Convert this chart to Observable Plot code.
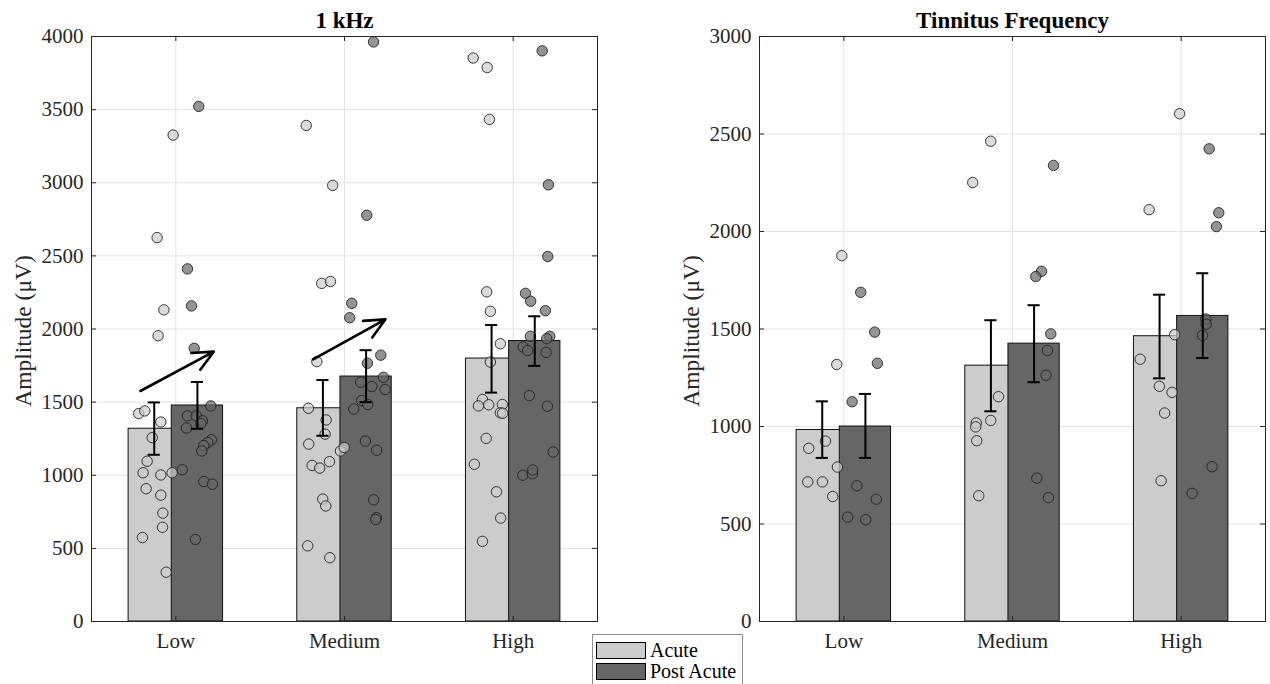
<!DOCTYPE html>
<html><head><meta charset="utf-8">
<script src="https://cdn.jsdelivr.net/npm/d3@7"></script>
<script src="https://cdn.jsdelivr.net/npm/@observablehq/plot@0.6"></script>
<style>
body{margin:0;background:#fff;}
#wrap{position:relative;width:1270px;height:684px;overflow:hidden;font-family:"Liberation Serif","Times New Roman",serif;color:#262626;}
.panel{position:absolute;top:0;}
#legend{position:absolute;left:592px;top:634px;width:151px;height:60px;border:1px solid #8c8c8c;background:#fff;box-sizing:border-box;}
.item{position:absolute;left:3px;height:19px;display:flex;align-items:center;font-size:20px;color:#000;}
.sw{width:50px;height:17px;border:1px solid #000;box-sizing:border-box;margin-right:4px;}
</style></head>
<body>
<div id="wrap">
  <div id="left" class="panel" style="left:0"></div>
  <div id="right" class="panel" style="left:635px"></div>
  <div id="legend"></div>
</div>
<script>
// ---------- data ----------
const categories = ["Low", "Medium", "High"];
const seriesNames = ["Acute", "Post Acute"];
const seriesColors = ["#cccccc", "#666666"];

// 1 kHz panel
const k1AcuteMean = [1318, 1458, 1798];
const k1AcuteLo   = [1140, 1270, 1565];
const k1AcuteHi   = [1498, 1651, 2027];
const k1PostMean  = [1477, 1675, 1918];
const k1PostLo    = [1318, 1500, 1748];
const k1PostHi    = [1638, 1855, 2087];

const k1AcutePts = [
  [3326, 2625, 2131, 1954, 1422, 1440, 1364, 1257, 1096, 1017, 1002, 1017, 908, 864, 741, 644, 574, 337],
  [3392, 2982, 2312, 2325, 1777, 1458, 1378, 1281, 1213, 1093, 1067, 1049, 1166, 1190, 837, 790, 517, 436],
  [3853, 3788, 3433, 2254, 2121, 1899, 1774, 1518, 1474, 1482, 1484, 1427, 1424, 1252, 1075, 887, 707, 548]
];
const k1AcuteJit = [
  [-0.016, -0.111, -0.071, -0.105, -0.220, -0.184, -0.089, -0.140, -0.170, -0.194, -0.089, -0.022, -0.176, -0.089, -0.077, -0.079, -0.198, -0.057],
  [-0.227, -0.070, -0.135, -0.083, -0.164, -0.214, -0.109, -0.115, -0.212, -0.089, -0.192, -0.147, -0.024, -0.002, -0.129, -0.111, -0.218, -0.087],
  [-0.237, -0.154, -0.141, -0.157, -0.135, -0.076, -0.135, -0.182, -0.206, -0.145, -0.064, -0.076, -0.062, -0.160, -0.230, -0.099, -0.074, -0.182]
];
const k1PostPts = [
  [3522, 2411, 2158, 1868, 1474, 1406, 1406, 1372, 1323, 1354, 1242, 1224, 1203, 1166, 1038, 957, 939, 561],
  [3963, 2778, 2176, 2077, 1821, 1766, 1670, 1586, 1636, 1607, 1511, 1484, 1453, 1234, 1171, 832, 710, 697],
  [3902, 2986, 2496, 2244, 2190, 2125, 1950, 1950, 1934, 1877, 1853, 1840, 1545, 1472, 1159, 1000, 1010, 1036]
];
const k1PostJit = [
  [0.136, 0.069, 0.093, 0.109, 0.207, 0.069, 0.121, 0.158, 0.063, 0.148, 0.211, 0.189, 0.166, 0.154, 0.038, 0.166, 0.217, 0.116],
  [0.172, 0.132, 0.043, 0.031, 0.215, 0.136, 0.231, 0.241, 0.096, 0.162, 0.102, 0.138, 0.055, 0.124, 0.191, 0.173, 0.189, 0.185],
  [0.172, 0.209, 0.205, 0.073, 0.104, 0.191, 0.102, 0.217, 0.199, 0.059, 0.086, 0.195, 0.096, 0.203, 0.237, 0.057, 0.114, 0.116]
];
// trend arrows (1 kHz): start/end in data units
const k1Arrows = [
  {x1: 0.790, y1: 1576, x2: 1.225, y2: 1845},
  {x1: 1.814, y1: 1792, x2: 2.243, y2: 2066}
];

// Tinnitus Frequency panel
const tfAcuteMean = [982, 1312, 1463];
const tfAcuteLo   = [839, 1078, 1247];
const tfAcuteHi   = [1129, 1545, 1676];
const tfPostMean  = [1000, 1425, 1567];
const tfPostLo    = [839, 1227, 1351];
const tfPostHi    = [1167, 1622, 1786];

const tfAcutePts = [
  [1876, 1318, 925, 888, 792, 716, 716, 641],
  [2463, 2251, 1153, 1031, 1018, 998, 927, 645],
  [2604, 2112, 1471, 1345, 1206, 1175, 1069, 722]
];
const tfAcuteJit = [
  [-0.012, -0.042, -0.109, -0.208, -0.038, -0.214, -0.127, -0.066],
  [-0.129, -0.236, -0.083, -0.129, -0.215, -0.218, -0.212, -0.200],
  [-0.009, -0.190, -0.038, -0.243, -0.129, -0.054, -0.098, -0.119]
];
const tfPostPts = [
  [1688, 1484, 1324, 1127, 696, 627, 535, 522],
  [2339, 1796, 1769, 1475, 1390, 1263, 735, 635],
  [2424, 2096, 2025, 1551, 1525, 1467, 794, 657]
];
const tfPostJit = [
  [0.100, 0.183, 0.199, 0.049, 0.077, 0.192, 0.023, 0.130],
  [0.243, 0.172, 0.138, 0.227, 0.207, 0.199, 0.144, 0.213],
  [0.166, 0.223, 0.209, 0.146, 0.148, 0.126, 0.183, 0.065]
];

const k1Ticks = [0, 500, 1000, 1500, 2000, 2500, 3000, 3500, 4000];
const tfTicks = [0, 500, 1000, 1500, 2000, 2500, 3000];
const yLabel = "Amplitude (μV)";

// ---------- drawing ----------
const OFF = 0.128, HW = 0.152, CAP = 0.036;
const AX = "#262626", GRID = "#e3e3e3";
const FONT = '"Liberation Serif", "Times New Roman", serif';

function panel(o) {
  const {title, yMax, ticks, means, los, his, pts, jits, arrows, marginLeft, marginRight} = o;
  const W = 635, H = 684, MT = 36, MB = 63;
  const pw = W - marginLeft - marginRight, ph = H - MT - MB;
  const bars = [], dots = [], errs = [];
  [0, 1].forEach(s => {
    const sign = s === 0 ? -1 : 1;
    categories.forEach((c, i) => {
      const cx = i + 1 + sign * OFF;
      bars.push({s, x1: cx - HW, x2: cx + HW, y: means[s][i]});
      errs.push({s, x: cx, lo: los[s][i], hi: his[s][i]});
      pts[s][i].forEach((v, j) => dots.push({s, x: i + 1 + jits[s][i][j], y: v}));
    });
  });
  const xs = [1, 2, 3];
  return Plot.plot({
    width: W, height: H, marginLeft, marginRight, marginTop: MT, marginBottom: MB,
    x: {domain: [0.5, 3.5]},
    y: {domain: [0, yMax]},
    style: {fontFamily: FONT, fontSize: "21px", color: AX, background: "#fff"},
    marks: [
      Plot.ruleY(ticks, {y: d => d, stroke: GRID, strokeWidth: 1}),
      Plot.ruleX(xs, {x: d => d, stroke: GRID, strokeWidth: 1}),
      Plot.rect(bars.filter(d => d.s === 0), {x1: "x1", x2: "x2", y1: 0, y2: "y", fill: seriesColors[0], stroke: "#111", strokeWidth: 1}),
      Plot.rect(bars.filter(d => d.s === 1), {x1: "x1", x2: "x2", y1: 0, y2: "y", fill: seriesColors[1], stroke: "#111", strokeWidth: 1}),
      Plot.dot(dots.filter(d => d.s === 0), {x: "x", y: "y", r: 5.2, fill: seriesColors[0], fillOpacity: 0.7, stroke: "#222", strokeWidth: 0.9}),
      Plot.dot(dots.filter(d => d.s === 1), {x: "x", y: "y", r: 5.2, fill: seriesColors[1], fillOpacity: 0.7, stroke: "#222", strokeWidth: 0.9}),
      Plot.ruleX(errs, {x: "x", y1: "lo", y2: "hi", stroke: "#000", strokeWidth: 2}),
      Plot.ruleY(errs, {y: "lo", x1: d => d.x - CAP, x2: d => d.x + CAP, stroke: "#000", strokeWidth: 2}),
      Plot.ruleY(errs, {y: "hi", x1: d => d.x - CAP, x2: d => d.x + CAP, stroke: "#000", strokeWidth: 2}),
      Plot.arrow(arrows, {x1: "x1", y1: "y1", x2: "x2", y2: "y2", stroke: "#000", strokeWidth: 2.6, headLength: 13, headAngle: 50}),
      Plot.frame({stroke: AX, strokeWidth: 1}),
      Plot.tickY(ticks, {y: d => d, insetRight: pw - 5, stroke: AX}),
      Plot.tickY(ticks, {y: d => d, insetLeft: pw - 5, stroke: AX}),
      Plot.tickX(xs, {x: d => d, insetBottom: ph - 5, stroke: AX}),
      Plot.tickX(xs, {x: d => d, insetTop: ph - 5, stroke: AX}),
      Plot.axisY({ticks, tickFormat: d => String(d), tickSize: 0, tickPadding: 8, label: null, fill: AX, fontSize: 21}),
      Plot.text([yLabel], {frameAnchor: "left", textAnchor: "middle", lineAnchor: "middle", rotate: -90, dx: -68, dy: 2, fontSize: 23.5, fill: AX}),
      Plot.axisX({ticks: xs, tickFormat: d => categories[d - 1], tickSize: 0, tickPadding: 12, label: null, fill: AX, fontSize: 21}),
      Plot.text([title], {frameAnchor: "top", lineAnchor: "bottom", dy: -9, fontWeight: "bold", fontSize: 23, fill: "#000"})
    ]
  });
}

document.getElementById("left").append(panel({
  title: "1 kHz", yMax: 4000, ticks: k1Ticks,
  means: [k1AcuteMean, k1PostMean], los: [k1AcuteLo, k1PostLo], his: [k1AcuteHi, k1PostHi],
  pts: [k1AcutePts, k1PostPts], jits: [k1AcuteJit, k1PostJit], arrows: k1Arrows,
  marginLeft: 91, marginRight: 38
}));
document.getElementById("right").append(panel({
  title: "Tinnitus Frequency", yMax: 3000, ticks: tfTicks,
  means: [tfAcuteMean, tfPostMean], los: [tfAcuteLo, tfPostLo], his: [tfAcuteHi, tfPostHi],
  pts: [tfAcutePts, tfPostPts], jits: [tfAcuteJit, tfPostJit], arrows: [],
  marginLeft: 124, marginRight: 5
}));

// legend
const leg = document.getElementById("legend");
seriesNames.forEach((n, i) => {
  const it = document.createElement("div");
  it.className = "item";
  it.style.top = (6 + i * 21) + "px";
  const sw = document.createElement("div");
  sw.className = "sw";
  sw.style.background = seriesColors[i];
  it.append(sw, document.createTextNode(n));
  leg.append(it);
});
</script>
</body></html>
